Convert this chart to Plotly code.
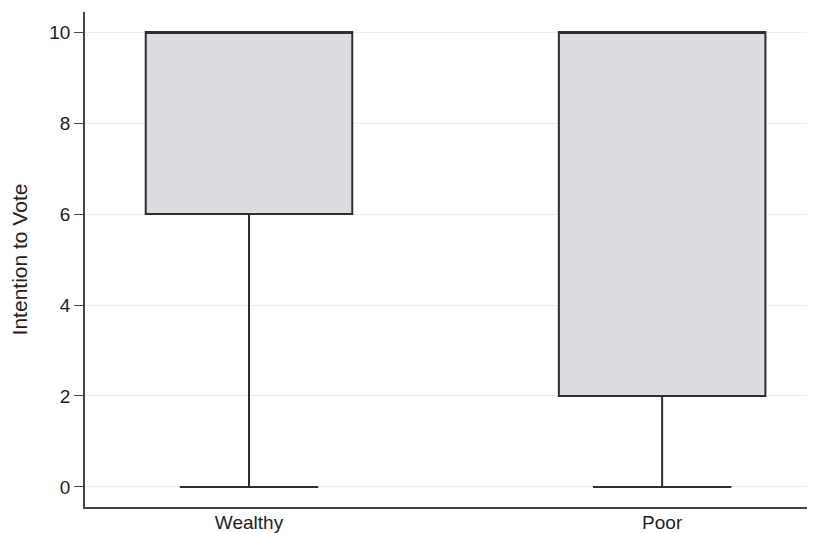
import plotly.graph_objects as go

categories = ["Wealthy", "Poor"]
lower_fence = [0, 0]
q1 = [6, 2]
median = [10, 10]
q3 = [10, 10]
upper_fence = [10, 10]
y_ticks = [0, 2, 4, 6, 8, 10]

fig = go.Figure()
for i, cat in enumerate(categories):
    fig.add_trace(go.Box(
        x=[cat],
        lowerfence=[lower_fence[i]],
        q1=[q1[i]],
        median=[median[i]],
        q3=[q3[i]],
        upperfence=[upper_fence[i]],
        fillcolor="#dcdde0",
        line=dict(color="#2e2e2e", width=2),
        width=0.5,
        whiskerwidth=0.67,
        boxpoints=False,
        showlegend=False,
        hoverinfo="skip",
    ))

fig.update_layout(
    width=815, height=533,
    margin=dict(l=77, r=8, t=4, b=34),
    plot_bgcolor="white", paper_bgcolor="white",
    font=dict(family="Liberation Sans, Arial, sans-serif", color="#222222"),
    xaxis=dict(
        type="category",
        categoryorder="array", categoryarray=categories,
        range=[-0.397, 1.37],
        showline=True, linecolor="#444444", linewidth=1.5,
        showgrid=False, ticks="", zeroline=False,
        tickfont=dict(size=19),
        ticklabelstandoff=-3,
        automargin=False,
    ),
    yaxis=dict(
        range=[-0.44, 10.44],
        tickvals=y_ticks,
        ticks="outside", ticklen=9, tickcolor="#444444", tickwidth=1.2,
        showline=True, linecolor="#444444", linewidth=1.5,
        showgrid=True, gridcolor="#ececec", gridwidth=1,
        zeroline=False,
        tickfont=dict(size=19),
        automargin=False,
        title=dict(text="Intention to Vote", font=dict(size=21), standoff=18),
    ),
)

fig.write_html("out.html")
